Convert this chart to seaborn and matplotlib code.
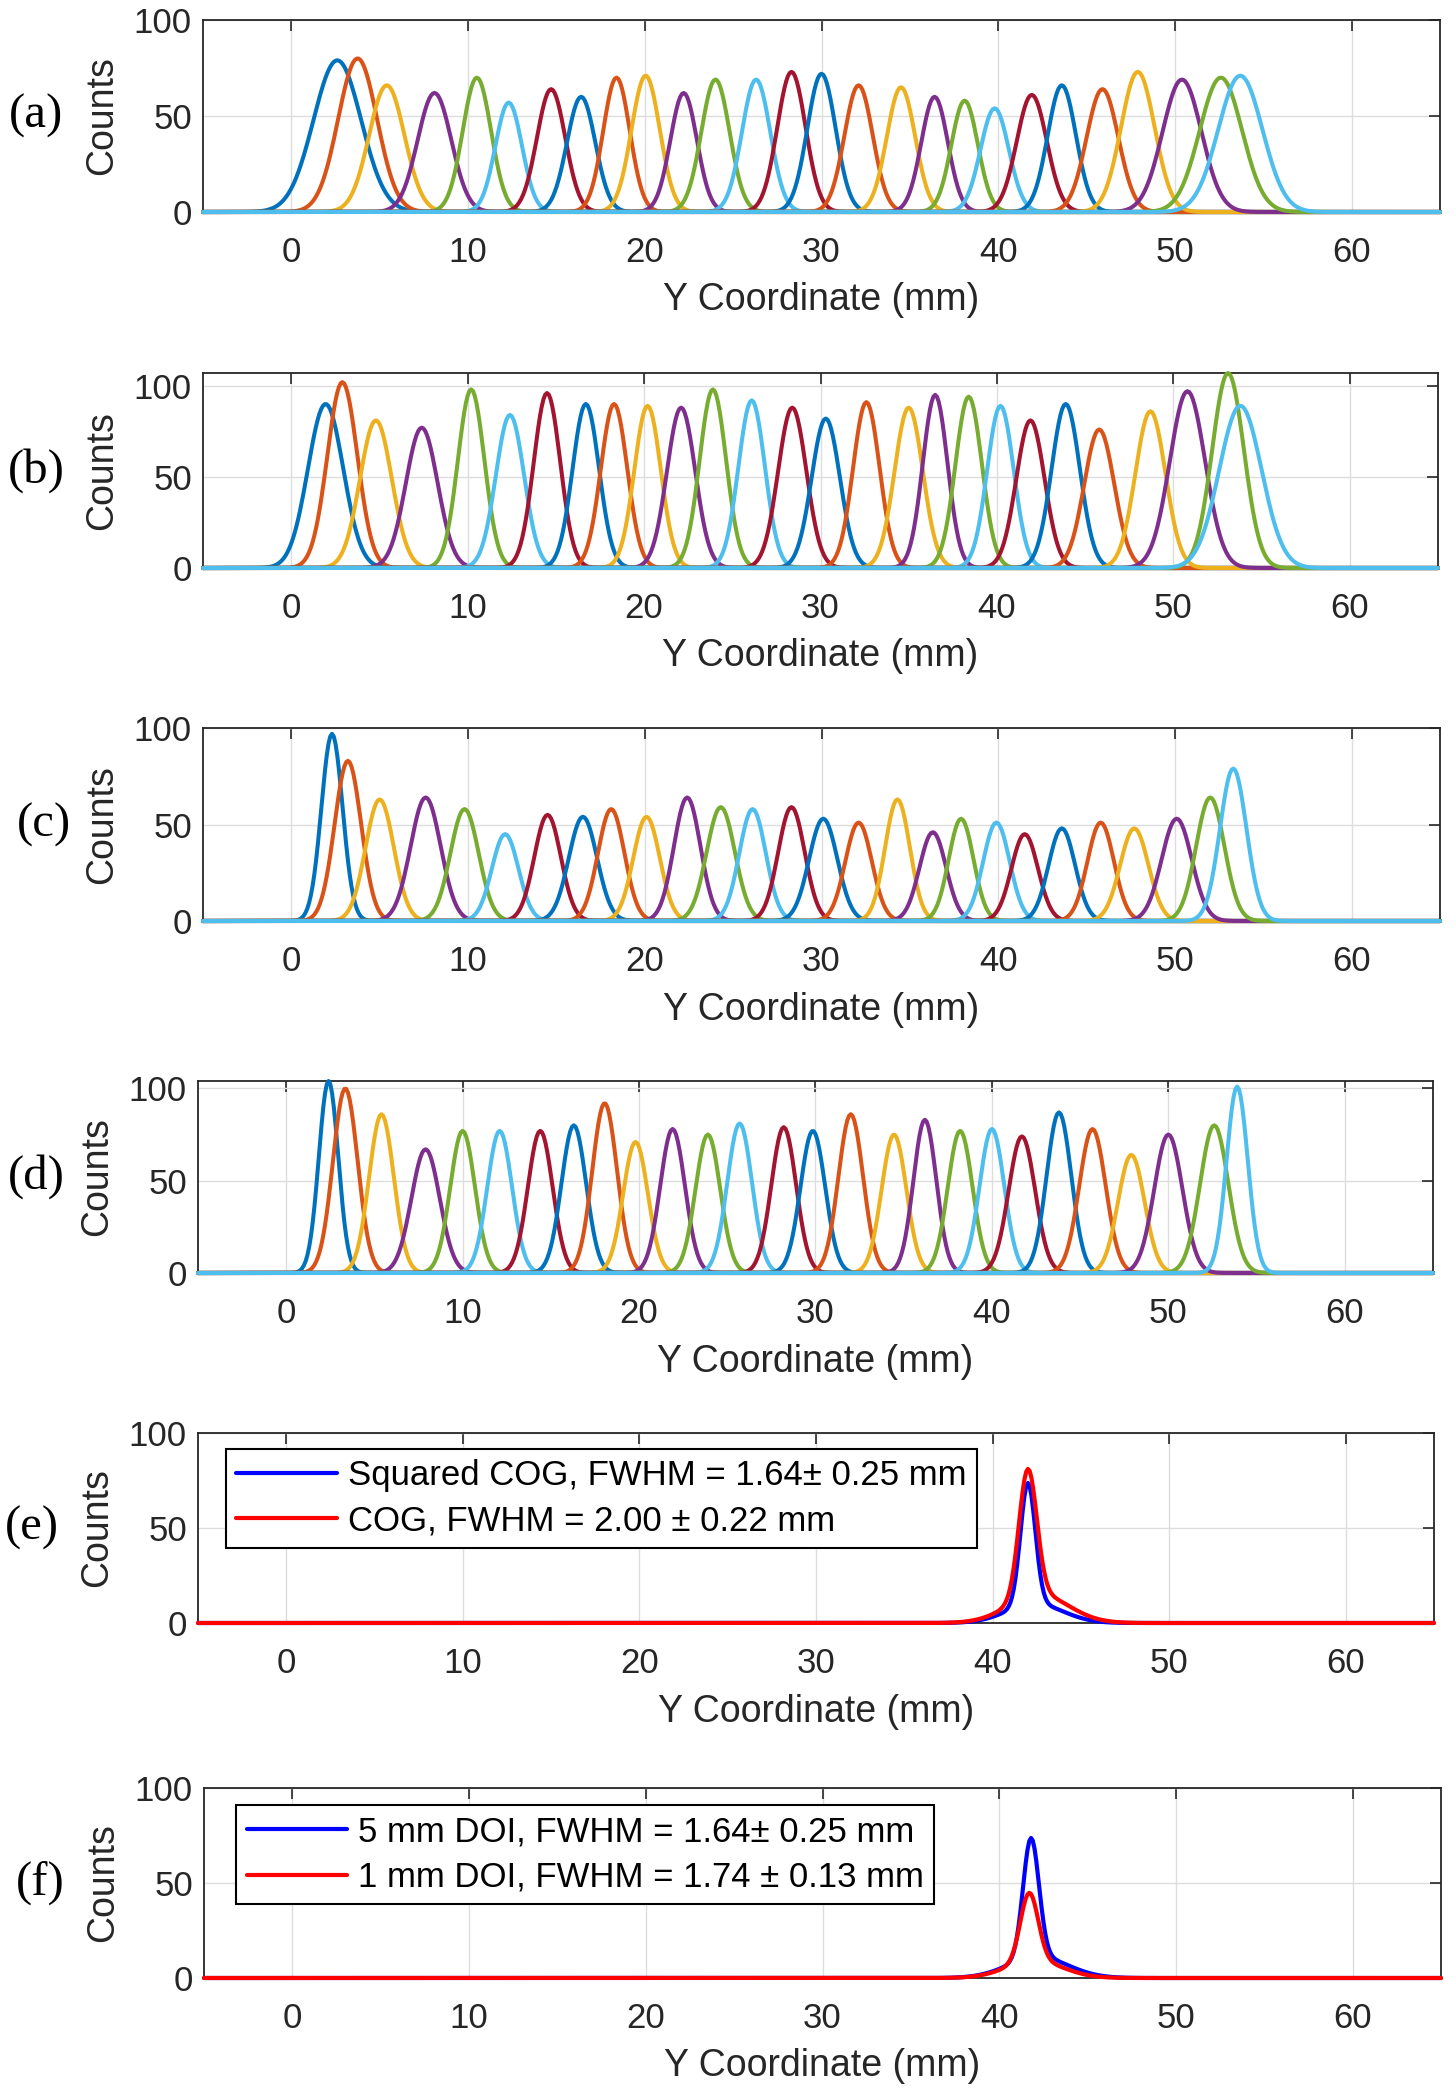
import numpy as np
import pandas as pd
import matplotlib.pyplot as plt
import seaborn as sns

# --- MATLAB default line colours (cycled over the peaks) ---
matlab_colors = ["#0072BD", "#D95319", "#EDB120", "#7E2F8E", "#77AC30", "#4DBEEE", "#A2142F"]

# --- Panel (a): peak centre (mm), height (counts), width (sigma, mm) ---
a_centers = [2.6, 3.75, 5.4, 8.1, 10.5, 12.3, 14.7, 16.4, 18.4, 20.05, 22.2, 24.0, 26.3, 28.3,
             30.0, 32.1, 34.5, 36.4, 38.1, 39.8, 41.9, 43.6, 45.9, 47.9, 50.4, 52.6, 53.7]
a_heights = [79, 80, 66, 62, 70, 57, 64, 60, 70, 71, 62, 69, 69, 73,
             72, 66, 65, 60, 58, 54, 61, 66, 64, 73, 69, 70, 71]
a_widths = [1.35, 1.1, 1.0, 0.95, 0.8, 0.75, 0.8, 0.8, 0.75, 0.8, 0.75, 0.8, 0.8, 0.8,
            0.8, 0.8, 0.8, 0.75, 0.75, 0.8, 0.85, 0.8, 0.9, 0.95, 1.1, 1.2, 1.25]

# --- Panel (b) ---
b_centers = [1.95, 2.9, 4.8, 7.4, 10.2, 12.4, 14.5, 16.7, 18.3, 20.2, 22.1, 23.9, 26.1, 28.4,
             30.3, 32.6, 35.0, 36.5, 38.4, 40.2, 41.9, 43.9, 45.8, 48.7, 50.8, 53.1, 53.8]
b_heights = [90, 102, 81, 77, 98, 84, 96, 90, 90, 89, 88, 98, 92, 88,
             82, 91, 88, 95, 94, 89, 81, 90, 76, 86, 97, 107, 89]
b_widths = [1.0, 0.85, 0.9, 0.9, 0.75, 0.8, 0.75, 0.75, 0.75, 0.75, 0.8, 0.75, 0.75, 0.8,
            0.8, 0.75, 0.8, 0.7, 0.75, 0.75, 0.8, 0.8, 0.85, 0.85, 1.0, 0.9, 1.2]

# --- Panel (c) ---
c_centers = [2.3, 3.2, 5.0, 7.6, 9.8, 12.1, 14.5, 16.5, 18.1, 20.1, 22.4, 24.3, 26.1, 28.3,
             30.1, 32.1, 34.3, 36.3, 37.9, 39.9, 41.5, 43.6, 45.8, 47.7, 50.1, 52.0, 53.3]
c_heights = [97, 83, 63, 64, 58, 45, 55, 54, 58, 54, 64, 59, 58, 59,
             53, 51, 63, 46, 53, 51, 45, 48, 51, 48, 53, 64, 79]
c_widths = [0.6, 0.75, 0.8, 0.85, 0.8, 0.75, 0.75, 0.8, 0.75, 0.75, 0.75, 0.8, 0.75, 0.75,
            0.8, 0.75, 0.7, 0.75, 0.7, 0.75, 0.75, 0.75, 0.75, 0.8, 0.85, 0.8, 0.75]

# --- Panel (d) ---
d_centers = [2.4, 3.35, 5.4, 7.9, 10.0, 12.1, 14.4, 16.3, 18.05, 19.8, 21.9, 23.9, 25.7, 28.2,
             29.85, 32.0, 34.45, 36.2, 38.2, 40.0, 41.7, 43.8, 45.7, 47.9, 50.0, 52.6, 53.9]
d_heights = [104, 100, 86, 67, 77, 77, 77, 80, 92, 71, 78, 75, 81, 79,
             77, 86, 75, 83, 77, 78, 74, 87, 78, 64, 75, 80, 101]
d_widths = [0.55, 0.7, 0.7, 0.8, 0.7, 0.7, 0.7, 0.7, 0.7, 0.7, 0.7, 0.7, 0.7, 0.7,
            0.7, 0.7, 0.7, 0.65, 0.7, 0.7, 0.75, 0.7, 0.75, 0.75, 0.8, 0.8, 0.6]

# --- Panel (e): squared COG vs COG (core peak + wide tail) ---
e_labels = ["Squared COG, FWHM = 1.64\u00b1 0.25 mm", "COG, FWHM = 2.00 \u00b1 0.22 mm"]
e_core_center = [42.0, 42.0]
e_core_height = [64, 67]
e_core_width = [0.42, 0.5]
e_tail_center = [42.4, 42.6]
e_tail_height = [10, 15]
e_tail_width = [1.6, 1.7]

# --- Panel (f): 5 mm DOI vs 1 mm DOI ---
f_labels = ["5 mm DOI, FWHM = 1.64\u00b1 0.25 mm", "1 mm DOI, FWHM = 1.74 \u00b1 0.13 mm"]
f_core_center = [41.8, 41.7]
f_core_height = [63, 36]
f_core_width = [0.45, 0.5]
f_tail_center = [42.2, 42.0]
f_tail_height = [11, 9]
f_tail_width = [1.7, 1.6]

x_grid = np.arange(-5, 65.01, 0.1)

sns.set_style("white")
plt.rcParams["font.family"] = ["Liberation Sans", "DejaVu Sans"]
text_col = "#262626"

fig = plt.figure(figsize=(14.56, 20.94), dpi=100)
W, H = 1456, 2094

# axes boxes in pixels: left, right, top, bottom
boxes = [(203, 1440, 20, 212), (203, 1438, 373, 568), (203, 1440, 728, 921),
         (198, 1433, 1081, 1273), (198, 1434, 1433, 1623), (204, 1441, 1788, 1978)]
letter_x = [36, 36, 44, 36, 32, 40]
letters = ["(a)", "(b)", "(c)", "(d)", "(e)", "(f)"]
ymax = [100, 107, 100, 104, 100, 100]

axes = []
for (l, r, t, b) in boxes:
    axes.append(fig.add_axes([l / W, 1 - b / H, (r - l) / W, (b - t) / H]))


def draw_peaks(ax, centers, heights, widths):
    parts = []
    for i, (c, h, w) in enumerate(zip(centers, heights, widths)):
        y = h * np.exp(-0.5 * ((x_grid - c) / w) ** 2)
        parts.append(pd.DataFrame({"y_mm": x_grid, "counts": y, "peak": f"p{i:02d}"}))
    df = pd.concat(parts, ignore_index=True)
    order = [f"p{i:02d}" for i in range(len(centers))]
    pal = [matlab_colors[i % 7] for i in range(len(centers))]
    sns.lineplot(data=df, x="y_mm", y="counts", hue="peak", hue_order=order, palette=pal,
                 legend=False, ax=ax, linewidth=2.9, estimator=None, sort=False)


def draw_pair(ax, labels, cc, ch, cw, tc, th, tw):
    parts = []
    for i in range(2):
        y = (ch[i] * np.exp(-0.5 * ((x_grid - cc[i]) / cw[i]) ** 2)
             + th[i] * np.exp(-0.5 * ((x_grid - tc[i]) / tw[i]) ** 2))
        parts.append(pd.DataFrame({"y_mm": x_grid, "counts": y, "curve": labels[i]}))
    df = pd.concat(parts, ignore_index=True)
    sns.lineplot(data=df, x="y_mm", y="counts", hue="curve", hue_order=labels,
                 palette=["#0000FF", "#FF0000"], ax=ax, linewidth=3.0, estimator=None, sort=False)


draw_peaks(axes[0], a_centers, a_heights, a_widths)
draw_peaks(axes[1], b_centers, b_heights, b_widths)
draw_peaks(axes[2], c_centers, c_heights, c_widths)
draw_peaks(axes[3], d_centers, d_heights, d_widths)
draw_pair(axes[4], e_labels, e_core_center, e_core_height, e_core_width,
          e_tail_center, e_tail_height, e_tail_width)
draw_pair(axes[5], f_labels, f_core_center, f_core_height, f_core_width,
          f_tail_center, f_tail_height, f_tail_width)

for i, ax in enumerate(axes):
    ax.set_xlim(-5, 65)
    ax.set_ylim(0, ymax[i])
    ax.set_xticks(range(0, 61, 10))
    ax.set_yticks([0, 50, 100])
    ax.grid(True, color="#dddddd", linewidth=1.0)
    ax.set_axisbelow(True)
    ax.tick_params(direction="in", length=8, width=1.2, top=True, right=True,
                   labelsize=25, colors=text_col)
    ax.tick_params(axis="x", pad=17)
    ax.tick_params(axis="y", pad=8)
    for s in ax.spines.values():
        s.set_color(text_col)
        s.set_linewidth(1.3)
    for line in ax.get_lines():
        line.set_clip_on(False)
        line.set_zorder(3)
    ax.set_xlabel("Y Coordinate (mm)", fontsize=27, labelpad=10, color=text_col)
    ax.set_ylabel("Counts", fontsize=27, labelpad=10, color=text_col)
    l, r, t, b = boxes[i]
    fig.text(letter_x[i] / W, 1 - (t + b) / 2 / H, letters[i], fontsize=35,
             family="Liberation Serif", ha="center", va="center", color="black")

# legends for (e) and (f)
for ax, anchor in [(axes[4], (0.0227, 0.916)), (axes[5], (0.026, 0.91))]:
    leg = ax.legend(loc="upper left", bbox_to_anchor=anchor, borderaxespad=0, fontsize=25,
                    handlelength=2.9, handletextpad=0.3, labelspacing=0.35, borderpad=0.3,
                    fancybox=False, framealpha=1, edgecolor="black")
    leg.get_frame().set_linewidth(1.5)
    leg.set_zorder(5)
    for line in leg.get_lines():
        line.set_linewidth(3)
    for txt in leg.get_texts():
        txt.set_color("black")

fig.savefig("out.png", dpi=100)
